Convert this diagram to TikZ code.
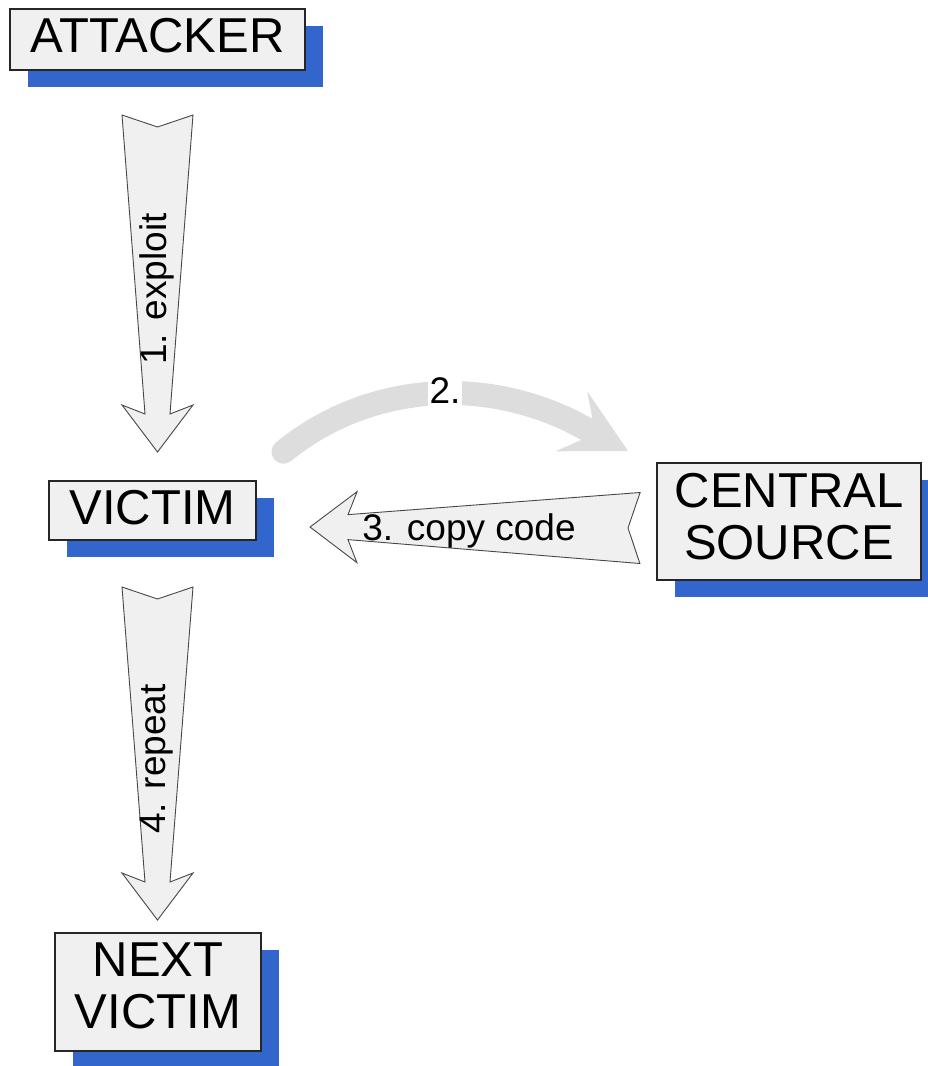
\documentclass[tikz,border=0pt]{standalone}
\usepackage{fontspec}
\setmainfont{Liberation Sans}
\usetikzlibrary{calc,shadows,arrows.meta}

\definecolor{boxfill}{HTML}{F0F0F0}
\definecolor{shadowblue}{HTML}{3366CC}
\definecolor{curvegray}{HTML}{DDDDDD}
\definecolor{outline}{HTML}{262626}

% extra depth below the last line, lifts the caps slightly above centre
\newcommand\dropstrut[1]{\rule[-#1pt]{0pt}{#1pt}}

\tikzset{
  actor/.style={draw=outline, line width=1.3pt, fill=boxfill, inner sep=0pt,
    align=center, font=\fontsize{49}{52}\selectfont,
    drop shadow={shadow xshift=18pt, shadow yshift=-17pt, fill=shadowblue, opacity=1}},
  fatarrow/.style={draw=outline!85, line width=0.9pt, fill=boxfill, line join=miter},
  steplabel/.style={font=\fontsize{37}{40}\selectfont, inner sep=0pt},
}

% hollow block arrow with a notched tail, from tail #1 to tip #2
\newcommand\blockarrow[2]{%
  \draw[fatarrow]
    ($(#1)!35.5pt!90:(#2)$) -- ($(#1)!12pt!(#2)$) -- ($(#1)!35.5pt!-90:(#2)$)
    -- ($(#2)!38pt!(#1)!12.5pt!90:(#1)$) -- ($(#2)!47pt!(#1)!35.5pt!90:(#1)$)
    -- (#2)
    -- ($(#2)!47pt!(#1)!35.5pt!-90:(#1)$) -- ($(#2)!38pt!(#1)!12.5pt!-90:(#1)$)
    -- cycle;}

\begin{document}
\begin{tikzpicture}[x=1pt,y=-1pt]
  \useasboundingbox (0,0) rectangle (928,1066);

  % parties
  \node[actor, minimum width=295pt, minimum height=61pt] (attacker) at (157.5,39.5)
    {ATTACKER\dropstrut{8}};
  \node[actor, minimum width=207pt, minimum height=59pt] (victim) at (152.5,510.5)
    {VICTIM\dropstrut{6}};
  \node[actor, minimum width=264pt, minimum height=117pt] (source) at (789,521.5)
    {CENTRAL\\SOURCE\dropstrut{10}};
  \node[actor, minimum width=206pt, minimum height=118pt] (next) at (158,992)
    {NEXT\\VICTIM\dropstrut{12}};

  % 2. victim reports back to the central source
  \coordinate (c2start) at (283.5,451.7);
  \coordinate (c2bend)  at (571,421);
  \coordinate (c2tip)   at (628,451);
  \draw[curvegray, line width=24pt, line cap=round,
        -{Stealth[length=64pt, width=68pt, inset=27pt, line width=0pt]}]
    (c2start) .. controls (364,386) and (476,375) .. (c2bend) -- (c2tip);
  \node[steplabel, fill=white, inner sep=2pt] (lbl2) at (445,391) {2.};

  % 1. exploit
  \coordinate (a1tail) at (157.5,115);
  \coordinate (a1tip)  at (157.5,452);
  \blockarrow{a1tail}{a1tip}
  \node[steplabel, rotate=90] (lbl1) at (157,289) {1. exploit};

  % 3. copy code
  \coordinate (a3tail) at (640,528);
  \coordinate (a3tip)  at (310,527);
  \blockarrow{a3tail}{a3tip}
  \node[steplabel] (lbl3) at (469,531) {3. copy code};

  % 4. repeat
  \coordinate (a4tail) at (157.5,587);
  \coordinate (a4tip)  at (157.5,920);
  \blockarrow{a4tail}{a4tip}
  \node[steplabel, rotate=90] (lbl4) at (157,759) {4. repeat};
\end{tikzpicture}
\end{document}
